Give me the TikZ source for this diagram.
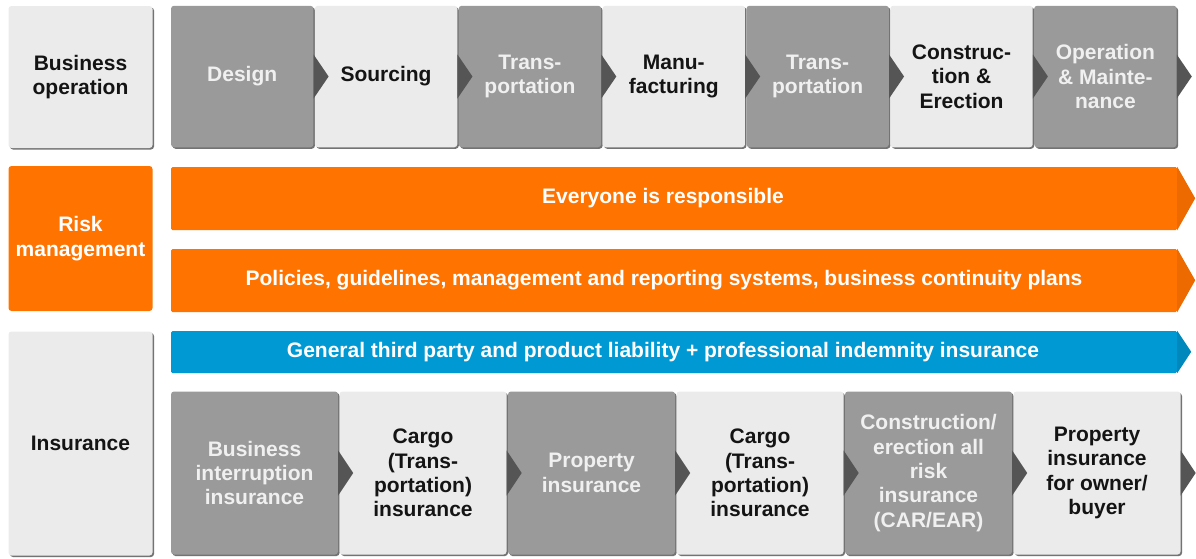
\documentclass[tikz,border=0pt]{standalone}
\usepackage{fontspec}
\setmainfont{Liberation Sans}
\usetikzlibrary{positioning,shadows}

\definecolor{lightbox}{HTML}{EBEBEB}
\definecolor{darkbox}{HTML}{9A9A9A}
\definecolor{chevgray}{HTML}{555555}
\definecolor{riskorange}{HTML}{FF7300}
\definecolor{tiporange}{HTML}{EC6A00}
\definecolor{insblue}{HTML}{0099D3}
\definecolor{tipblue}{HTML}{0087BC}

\tikzset{
    box/.style={rectangle, rounded corners=3pt, inner sep=2pt, align=center,
        font=\fontsize{21}{24.3}\selectfont\bfseries},
    shadowed/.style={drop shadow={shadow xshift=1.5pt, shadow yshift=-1.5pt,
        fill=black!55, opacity=1}},
    lightstep/.style={box, shadowed, fill=lightbox, text=black!92},
    darkstep/.style={box, shadowed, fill=darkbox, text=white!94!black},
    riskbox/.style={box, fill=riskorange, text=white},
    bar/.style={rectangle, rounded corners=1.5pt, inner sep=0pt},
    bartext/.style={font=\fontsize{21}{24.3}\selectfont\bfseries, text=white}
}

\begin{document}
\begin{tikzpicture}[x=1pt, y=-1pt]
    \useasboundingbox (0,0) rectangle (1196,558);

    % Row labels
    \node[lightstep, minimum width=144pt, minimum height=142pt] (bizop) at (80.5,77) {Business\\operation};
    \node[riskbox, minimum width=144pt, minimum height=145pt] (riskmgmt) at (80.5,238.5) {Risk\\management};
    \node[lightstep, minimum width=144pt, minimum height=224pt] (insur) at (80.5,443.5) {Insurance};

    % Business operation chain
    \foreach \i/\sty/\txt in {0/darkstep/Design, 1/lightstep/Sourcing,
        2/darkstep/{Trans-\\portation}, 3/lightstep/{Manu-\\facturing},
        4/darkstep/{Trans-\\portation}, 5/lightstep/{Construc-\\tion \&\\Erection},
        6/darkstep/{Operation\\\& Mainte-\\nance}}
        \node[\sty, minimum width=142.4pt, minimum height=141.5pt] (op\i) at ({242.2+143.86*\i},76.5) {\txt};
    \foreach \i in {0,...,6}
        \fill[chevgray] (op\i.east) ++(0,-22) -- ++(15,22) -- ++(-15,22) -- cycle;

    % Risk management bars
    \node[bar, fill=riskorange, minimum width=1006pt, minimum height=63pt] (everyone) at (674,198.5) {};
    \fill[tiporange] (everyone.north east) -- ++(18,31.5) -- (everyone.south east) -- cycle;
    \node[bartext] (everyonetxt) at (663,198.5) {Everyone is responsible};

    \node[bar, fill=riskorange, minimum width=1006pt, minimum height=63pt] (policies) at (674,280.5) {};
    \fill[tiporange] (policies.north east) -- ++(18,31.5) -- (policies.south east) -- cycle;
    \node[bartext] (policiestxt) at (664,280.5) {Policies, guidelines, management and reporting systems, business continuity plans};

    % Liability bar
    \node[bar, fill=insblue, minimum width=1006pt, minimum height=42pt] (liab) at (674,352) {};
    \fill[tipblue] (liab.north east) -- ++(14,21) -- (liab.south east) -- cycle;
    \node[bartext] (liabtxt) at (663,352) {General third party and product liability + professional indemnity insurance};

    % Insurance chain
    \foreach \i/\sty/\txt in {0/darkstep/{Business\\interruption\\insurance},
        1/lightstep/{Cargo\\(Trans-\\portation)\\insurance},
        2/darkstep/{Property\\insurance},
        3/lightstep/{Cargo\\(Trans-\\portation)\\insurance},
        4/darkstep/{Construction/\\erection all\\risk\\insurance\\(CAR/EAR)},
        5/lightstep/{Property\\insurance\\for owner/\\buyer}}
        \node[\sty, minimum width=167pt, minimum height=163pt] (ins\i) at ({254.5+168.5*\i},473) {\txt};
    \foreach \i in {0,...,5}
        \fill[chevgray] (ins\i.east) ++(0,-22.5) -- ++(15,22.5) -- ++(-15,22.5) -- cycle;
\end{tikzpicture}
\end{document}
